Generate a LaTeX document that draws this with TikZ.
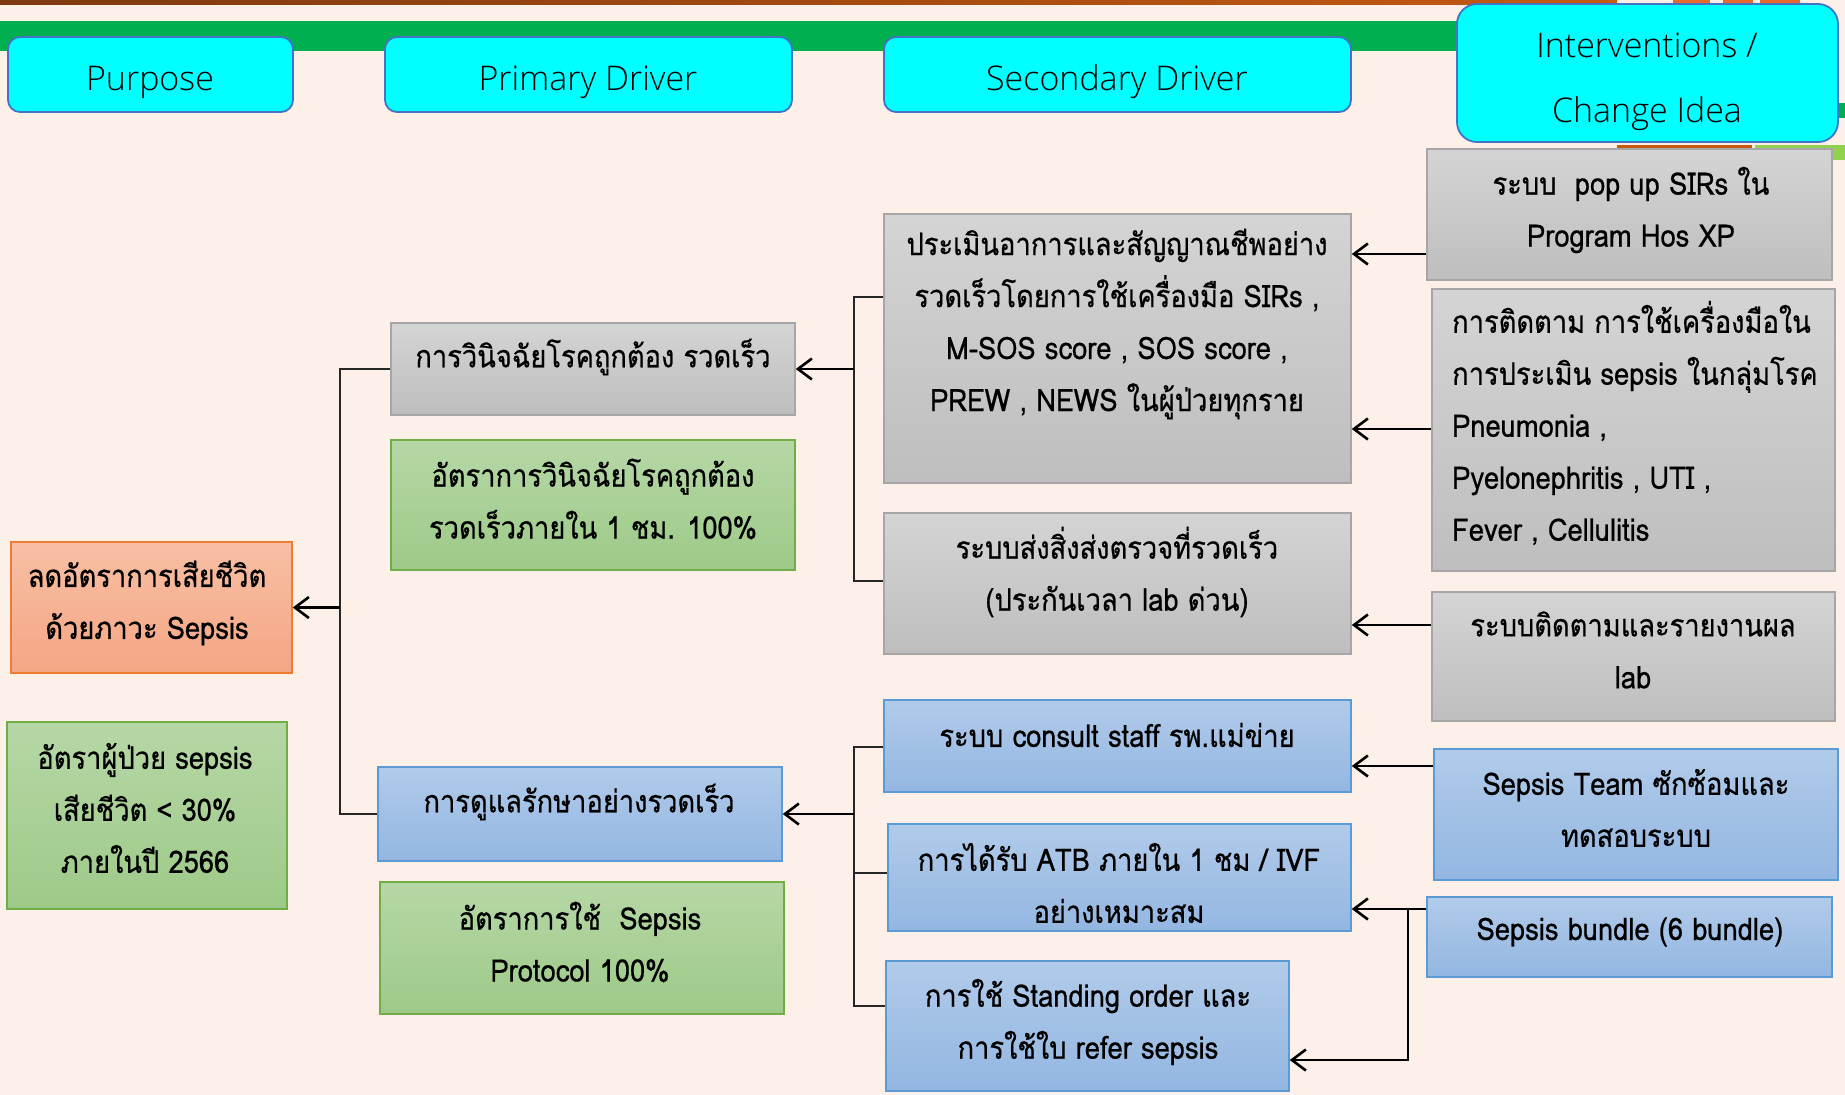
\documentclass[tikz,border=0pt]{standalone}
\usepackage{fontspec}
\newfontfamily\thaifont[Script=Thai,FakeStretch=0.88,FakeBold=0.6]{Loma}
\newfontfamily\headfont{Open Sans Light}
\usetikzlibrary{arrows.meta,fit}

\definecolor{bgpeach}{RGB}{253,240,233}
\definecolor{bandgreen}{RGB}{0,176,80}
\definecolor{bandbrownL}{RGB}{126,56,16}
\definecolor{bandbrownR}{RGB}{197,90,17}
\definecolor{barorange}{RGB}{197,90,17}
\definecolor{barlime}{RGB}{146,208,80}
\definecolor{letterorange}{RGB}{232,105,42}
\definecolor{hdrcyan}{RGB}{0,255,255}
\definecolor{hdredge}{RGB}{68,114,196}
\definecolor{grayT}{RGB}{212,212,212}
\definecolor{grayB}{RGB}{190,190,190}
\definecolor{grayE}{RGB}{166,166,166}
\definecolor{greenT}{RGB}{182,215,166}
\definecolor{greenB}{RGB}{157,202,136}
\definecolor{greenE}{RGB}{112,173,71}
\definecolor{orangeT}{RGB}{248,191,164}
\definecolor{orangeB}{RGB}{244,166,132}
\definecolor{orangeE}{RGB}{237,125,49}
\definecolor{blueT}{RGB}{177,203,234}
\definecolor{blueB}{RGB}{147,182,225}
\definecolor{blueE}{RGB}{91,155,213}

\begin{document}
\begin{tikzpicture}[x=1pt,y=-1pt,
  hdrbox/.style={draw=hdredge, line width=1.8pt, fill=hdrcyan, rounded corners=12pt, inner sep=0pt},
  graybox/.style={draw=grayE, line width=1.5pt, top color=grayT, bottom color=grayB, inner sep=0pt},
  greenbox/.style={draw=greenE, line width=1.5pt, top color=greenT, bottom color=greenB, inner sep=0pt},
  orangebox/.style={draw=orangeE, line width=1.5pt, top color=orangeT, bottom color=orangeB, inner sep=0pt},
  bluebox/.style={draw=blueE, line width=1.5pt, top color=blueT, bottom color=blueB, inner sep=0pt},
  hdrtext/.style={font=\headfont\fontsize{34}{65}\selectfont, align=center, inner sep=0pt},
  thaitext/.style={font=\thaifont\fontsize{31}{52}\selectfont, align=center, inner sep=0pt},
  tree/.style={line width=1.4pt, draw=black!85},
  arr/.style={line width=2.6pt, -{Straight Barb[length=14pt,width=21pt,line width=2.6pt]}}
]
% page and background
\useasboundingbox (0,0) rectangle (1845,1095);
\fill[bgpeach] (0,0) rectangle (1845,1095);

% decorative bands across the top
\shade[left color=bandbrownL, right color=bandbrownR] (0,0) rectangle (1617,4);
\fill[letterorange] (1673,0) rectangle (1710,4);
\fill[letterorange] (1723,0) rectangle (1753,4);
\fill[letterorange] (1760,0) rectangle (1800,4);
\fill[bandgreen] (0,21) rectangle (1500,51);
\fill[bandgreen] (1825,103) rectangle (1845,118);
\fill[barorange] (1617,145) rectangle (1752,152);
\fill[barlime] (1755,145) rectangle (1845,160);

% column headers
\node[hdrbox, fit={(8,37) (293,112)}] (hpur) {};
\node[hdrbox, fit={(385,37) (792,112)}] (hpri) {};
\node[hdrbox, fit={(884,37) (1351,112)}] (hsec) {};
\node[hdrbox, rounded corners=20pt, fit={(1457,4) (1838,142)}] (hint) {};
\node[hdrtext] (hpur-t) at (150,82) {Purpose};
\node[hdrtext] (hpri-t) at (588,82) {Primary Driver};
\node[hdrtext] (hsec-t) at (1117,82) {Secondary Driver};
\node[hdrtext] (hint-t) at (1647,82) {Interventions /\\Change Idea};

% purpose column
\node[orangebox, fit={(11,542) (292,673)}] (purp) {};
\node[greenbox, fit={(7,722) (287,909)}] (purpm) {};
\node[thaitext] (purp-t) at (147,603) {ลดอัตราการเสียชีวิต\\ด้วยภาวะ Sepsis};
\node[thaitext] (purpm-t) at (145,808) {อัตราผู้ป่วย sepsis\\เสียชีวิต < 30\%\\ภายในปี 2566};

% primary drivers
\node[graybox, fit={(391,323) (795,415)}] (pd1) {};
\node[greenbox, fit={(391,440) (795,570)}] (pd1m) {};
\node[bluebox, fit={(378,767) (782,861)}] (pd2) {};
\node[greenbox, fit={(380,882) (784,1014)}] (pd2m) {};
\node[thaitext] (pd1-t) at (593,357) {การวินิจฉัยโรคถูกต้อง รวดเร็ว};
\node[thaitext] (pd1m-t) at (593,499) {อัตราการวินิจฉัยโรคถูกต้อง\\รวดเร็วภายใน 1 ชม. 100\%};
\node[thaitext] (pd2-t) at (579,802) {การดูแลรักษาอย่างรวดเร็ว};
\node[thaitext] (pd2m-t) at (580,942) {อัตราการใช้\ \ Sepsis\\Protocol 100\%};

% secondary drivers
\node[graybox, fit={(884,214) (1351,483)}] (sd1) {};
\node[graybox, fit={(884,513) (1351,654)}] (sd2) {};
\node[bluebox, fit={(884,700) (1351,792)}] (sd3) {};
\node[bluebox, fit={(888,824) (1351,931)}] (sd4) {};
\node[bluebox, fit={(886,961) (1289,1091)}] (sd5) {};
\node[thaitext] (sd1-t) at (1117,324) {ประเมินอาการและสัญญาณชีพอย่าง\\รวดเร็วโดยการใช้เครื่องมือ SIRs ,\\M-SOS score , SOS score ,\\PREW , NEWS ในผู้ป่วยทุกราย};
\node[thaitext] (sd2-t) at (1117,572) {ระบบส่งสิ่งส่งตรวจที่รวดเร็ว\\(ประกันเวลา lab ด่วน)};
\node[thaitext] (sd3-t) at (1117,735) {ระบบ consult staff รพ.แม่ข่าย};
\node[thaitext] (sd4-t) at (1119,883) {การได้รับ ATB ภายใน 1 ชม / IVF\\อย่างเหมาะสม};
\node[thaitext] (sd5-t) at (1088,1022) {การใช้ Standing order และ\\การใช้ใบ refer sepsis};

% interventions / change ideas
\node[graybox, fit={(1427,149) (1832,280)}] (iv1) {};
\node[graybox, fit={(1432,289) (1835,571)}] (iv2) {};
\node[graybox, fit={(1432,592) (1835,721)}] (iv3) {};
\node[bluebox, fit={(1434,749) (1838,880)}] (iv4) {};
\node[bluebox, fit={(1427,897) (1832,977)}] (iv5) {};
\node[thaitext] (iv1-t) at (1631,210) {ระบบ\ \ pop up SIRs ใน\\Program Hos XP};
\node[thaitext, align=left, anchor=west] (iv2-t) at (1452,423) {การติดตาม การใช้เครื่องมือใน\\การประเมิน sepsis ในกลุ่มโรค\\Pneumonia ,\\Pyelonephritis , UTI ,\\Fever , Cellulitis};
\node[thaitext] (iv3-t) at (1633,650) {ระบบติดตามและรายงานผล\\lab};
\node[thaitext] (iv4-t) at (1636,808) {Sepsis Team ซักซ้อมและ\\ทดสอบระบบ};
\node[thaitext] (iv5-t) at (1630,932) {Sepsis bundle (6 bundle)};

% junction points and connector heights
\coordinate (lt) at (340,0);
\coordinate (ua) at (854,297);
\coordinate (ub) at (854,581);
\coordinate (la) at (854,747);
\coordinate (lc) at (854,873);
\coordinate (lb) at (854,1006);
\coordinate (bj) at (1408,909);
\coordinate (y254) at (0,254);
\coordinate (y429) at (0,429);
\coordinate (y625) at (0,625);
\coordinate (y766) at (0,766);
\coordinate (y1060) at (0,1060);

% purpose <- primary drivers
\draw[tree] (pd1.west) -| (lt |- pd1.west) |- (pd2.west);
\draw[arr] (lt |- purp.east) -- (purp.east);

% primary driver 1 <- secondary drivers 1, 2
\draw[tree] (sd1.west |- ua) -- (ua) -- (ub) -- (sd2.west |- ub);
\draw[arr] (ua |- pd1.east) -- (pd1.east);

% primary driver 2 <- secondary drivers 3, 4, 5
\draw[tree] (sd3.west |- la) -- (la) -- (lb) -- (sd5.west |- lb);
\draw[tree] (lc) -- (sd4.west |- lc);
\draw[arr] (la |- pd2.east) -- (pd2.east);

% secondary drivers <- interventions
\draw[arr] (iv1.west |- y254) -- (sd1.east |- y254);
\draw[arr] (iv2.west |- y429) -- (sd1.east |- y429);
\draw[arr] (iv3.west |- y625) -- (sd2.east |- y625);
\draw[arr] (iv4.west |- y766) -- (sd3.east |- y766);
\draw[arr] (iv5.west |- bj) -- (sd4.east |- bj);
\draw[arr] (bj) |- (sd5.east |- y1060);
\end{tikzpicture}
\end{document}
